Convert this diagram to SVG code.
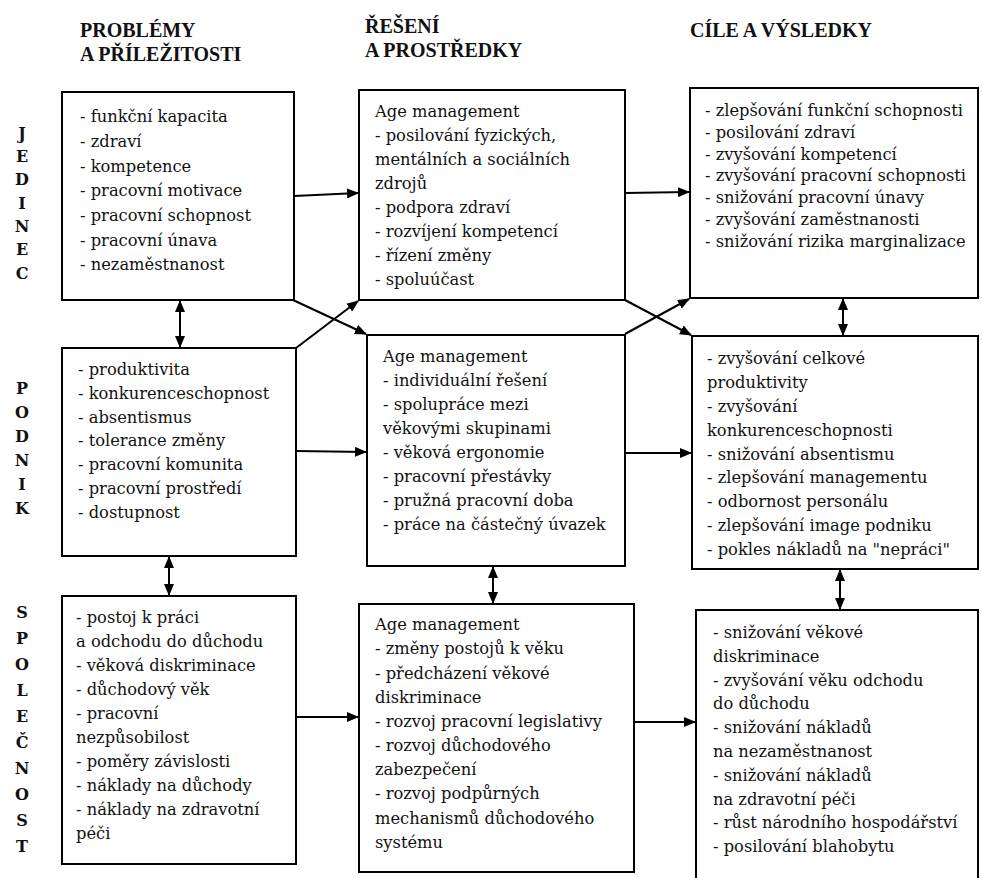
<svg xmlns="http://www.w3.org/2000/svg" width="982" height="878" viewBox="0 0 982 878">
<style>
.bg{fill:#ffffff}
.box{fill:#ffffff;stroke:#000;stroke-width:2}
.t{font-family:"DejaVu Serif","Liberation Serif",serif;font-size:16.3px;fill:#111}
.h{font-family:"Liberation Serif","DejaVu Serif",serif;font-size:20px;font-weight:bold;fill:#111}
.s{font-family:"DejaVu Serif","Liberation Serif",serif;font-size:16px;font-weight:bold;fill:#111;text-anchor:middle}
.c{stroke:#000;stroke-width:2;fill:none}
</style>
<defs>
<marker id="ah" markerUnits="userSpaceOnUse" markerWidth="12" markerHeight="10" refX="11" refY="5" orient="auto-start-reverse" viewBox="0 0 12 10">
<path d="M0,0 L12,5 L0,10 z" fill="#000"/>
</marker>
</defs>
<rect class="bg" x="0" y="0" width="982" height="878"/>

<g id="headers">
<text class="h" x="80" y="37">PROBLÉMY</text>
<text class="h" x="80" y="61">A PŘÍLEŽITOSTI</text>
<text class="h" x="365" y="33">ŘEŠENÍ</text>
<text class="h" x="365" y="57">A PROSTŘEDKY</text>
<text class="h" x="690" y="37">CÍLE A VÝSLEDKY</text>
</g>

<g id="side-jedinec">
<text class="s" x="22" y="139">J</text>
<text class="s" x="22" y="162">E</text>
<text class="s" x="22" y="185">D</text>
<text class="s" x="22" y="209">I</text>
<text class="s" x="22" y="232">N</text>
<text class="s" x="22" y="255">E</text>
<text class="s" x="22" y="279">C</text>
</g>
<g id="side-podnik">
<text class="s" x="22" y="394">P</text>
<text class="s" x="22" y="418">O</text>
<text class="s" x="22" y="442">D</text>
<text class="s" x="22" y="466">N</text>
<text class="s" x="22" y="490">I</text>
<text class="s" x="22" y="514">K</text>
</g>
<g id="side-spolecnost">
<text class="s" x="22" y="618">S</text>
<text class="s" x="22" y="644">P</text>
<text class="s" x="22" y="670">O</text>
<text class="s" x="22" y="696">L</text>
<text class="s" x="22" y="722">E</text>
<text class="s" x="22" y="748">Č</text>
<text class="s" x="22" y="774">N</text>
<text class="s" x="22" y="800">O</text>
<text class="s" x="22" y="826">S</text>
<text class="s" x="22" y="852">T</text>
</g>

<g id="box-problemy-jedinec">
<rect class="box" x="62" y="92" width="232" height="208"/>
<text class="t" x="80" y="122">- funkční kapacita</text>
<text class="t" x="80" y="147">- zdraví</text>
<text class="t" x="80" y="172">- kompetence</text>
<text class="t" x="80" y="196">- pracovní motivace</text>
<text class="t" x="80" y="221">- pracovní schopnost</text>
<text class="t" x="80" y="246">- pracovní únava</text>
<text class="t" x="80" y="270">- nezaměstnanost</text>
</g>

<g id="box-reseni-jedinec">
<rect class="box" x="359" y="90" width="266" height="210"/>
<text class="t" x="375" y="117">Age management</text>
<text class="t" x="375" y="141">- posilování fyzických,</text>
<text class="t" x="375" y="165">mentálních a sociálních</text>
<text class="t" x="375" y="189">zdrojů</text>
<text class="t" x="375" y="213">- podpora zdraví</text>
<text class="t" x="375" y="237">- rozvíjení kompetencí</text>
<text class="t" x="375" y="261">- řízení změny</text>
<text class="t" x="375" y="285">- spoluúčast</text>
</g>

<g id="box-cile-jedinec">
<rect class="box" x="690" y="88" width="288" height="210"/>
<text class="t" x="705" y="116">- zlepšování funkční schopnosti</text>
<text class="t" x="705" y="138">- posilování zdraví</text>
<text class="t" x="705" y="160">- zvyšování kompetencí</text>
<text class="t" x="705" y="181">- zvyšování pracovní schopnosti</text>
<text class="t" x="705" y="203">- snižování pracovní únavy</text>
<text class="t" x="705" y="225">- zvyšování zaměstnanosti</text>
<text class="t" x="705" y="247">- snižování rizika marginalizace</text>
</g>

<g id="box-problemy-podnik">
<rect class="box" x="62" y="348" width="234" height="208"/>
<text class="t" x="78" y="375">- produktivita</text>
<text class="t" x="78" y="399">- konkurenceschopnost</text>
<text class="t" x="78" y="423">- absentismus</text>
<text class="t" x="78" y="446">- tolerance změny</text>
<text class="t" x="78" y="470">- pracovní komunita</text>
<text class="t" x="78" y="494">- pracovní prostředí</text>
<text class="t" x="78" y="518">- dostupnost</text>
</g>

<g id="box-reseni-podnik">
<rect class="box" x="367" y="335" width="258" height="231"/>
<text class="t" x="383" y="362">Age management</text>
<text class="t" x="383" y="386">- individuální řešení</text>
<text class="t" x="383" y="410">- spolupráce mezi</text>
<text class="t" x="383" y="434">věkovými skupinami</text>
<text class="t" x="383" y="458">- věková ergonomie</text>
<text class="t" x="383" y="482">- pracovní přestávky</text>
<text class="t" x="383" y="506">- pružná pracovní doba</text>
<text class="t" x="383" y="530">- práce na částečný úvazek</text>
</g>

<g id="box-cile-podnik">
<rect class="box" x="692" y="336" width="286" height="233"/>
<text class="t" x="707" y="364">- zvyšování celkové</text>
<text class="t" x="707" y="388">produktivity</text>
<text class="t" x="707" y="412">- zvyšování</text>
<text class="t" x="707" y="436">konkurenceschopnosti</text>
<text class="t" x="707" y="460">- snižování absentismu</text>
<text class="t" x="707" y="483">- zlepšování managementu</text>
<text class="t" x="707" y="507">- odbornost personálu</text>
<text class="t" x="707" y="531">- zlepšování image podniku</text>
<text class="t" x="707" y="555">- pokles nákladů na "nepráci"</text>
</g>

<g id="box-problemy-spolecnost">
<rect class="box" x="62" y="596" width="234" height="268"/>
<text class="t" x="76" y="623">- postoj k práci</text>
<text class="t" x="76" y="647">a odchodu do důchodu</text>
<text class="t" x="76" y="671">- věková diskriminace</text>
<text class="t" x="76" y="695">- důchodový věk</text>
<text class="t" x="76" y="719">- pracovní</text>
<text class="t" x="76" y="743">nezpůsobilost</text>
<text class="t" x="76" y="767">- poměry závislosti</text>
<text class="t" x="76" y="791">- náklady na důchody</text>
<text class="t" x="76" y="815">- náklady na zdravotní</text>
<text class="t" x="76" y="839">péči</text>
</g>

<g id="box-reseni-spolecnost">
<rect class="box" x="359" y="604" width="275" height="268"/>
<text class="t" x="375" y="630">Age management</text>
<text class="t" x="375" y="654">- změny postojů k věku</text>
<text class="t" x="375" y="679">- předcházení věkové</text>
<text class="t" x="375" y="703">diskriminace</text>
<text class="t" x="375" y="727">- rozvoj pracovní legislativy</text>
<text class="t" x="375" y="751">- rozvoj důchodového</text>
<text class="t" x="375" y="775">zabezpečení</text>
<text class="t" x="375" y="799">- rozvoj podpůrných</text>
<text class="t" x="375" y="824">mechanismů důchodového</text>
<text class="t" x="375" y="848">systému</text>
</g>

<g id="box-cile-spolecnost">
<rect class="box" x="696" y="610" width="282" height="280"/>
<text class="t" x="713" y="638">- snižování věkové</text>
<text class="t" x="713" y="662">diskriminace</text>
<text class="t" x="713" y="686">- zvyšování věku odchodu</text>
<text class="t" x="713" y="709">do důchodu</text>
<text class="t" x="713" y="733">- snižování nákladů</text>
<text class="t" x="713" y="757">na nezaměstnanost</text>
<text class="t" x="713" y="781">- snižování nákladů</text>
<text class="t" x="713" y="805">na zdravotní péči</text>
<text class="t" x="713" y="828">- růst národního hospodářství</text>
<text class="t" x="713" y="852">- posilování blahobytu</text>
</g>

<g id="connectors">
<line class="c" x1="294" y1="196" x2="358" y2="193" marker-end="url(#ah)"/>
<line class="c" x1="625" y1="193" x2="689" y2="192" marker-end="url(#ah)"/>
<line class="c" x1="296" y1="451" x2="366" y2="452" marker-end="url(#ah)"/>
<line class="c" x1="625" y1="453" x2="691" y2="453" marker-end="url(#ah)"/>
<line class="c" x1="296" y1="717" x2="358" y2="717" marker-end="url(#ah)"/>
<line class="c" x1="634" y1="722" x2="695" y2="722" marker-end="url(#ah)"/>
<line class="c" x1="293" y1="300" x2="366" y2="334" marker-end="url(#ah)"/>
<line class="c" x1="296" y1="348" x2="358" y2="301" marker-end="url(#ah)"/>
<line class="c" x1="625" y1="300" x2="691" y2="335" marker-end="url(#ah)"/>
<line class="c" x1="625" y1="334" x2="689" y2="299" marker-end="url(#ah)"/>
<line class="c" x1="180" y1="301" x2="180" y2="347" marker-start="url(#ah)" marker-end="url(#ah)"/>
<line class="c" x1="169" y1="557" x2="169" y2="595" marker-start="url(#ah)" marker-end="url(#ah)"/>
<line class="c" x1="493" y1="567" x2="493" y2="603" marker-start="url(#ah)" marker-end="url(#ah)"/>
<line class="c" x1="843" y1="299" x2="843" y2="335" marker-start="url(#ah)" marker-end="url(#ah)"/>
<line class="c" x1="840" y1="570" x2="840" y2="609" marker-start="url(#ah)" marker-end="url(#ah)"/>
</g>
</svg>
